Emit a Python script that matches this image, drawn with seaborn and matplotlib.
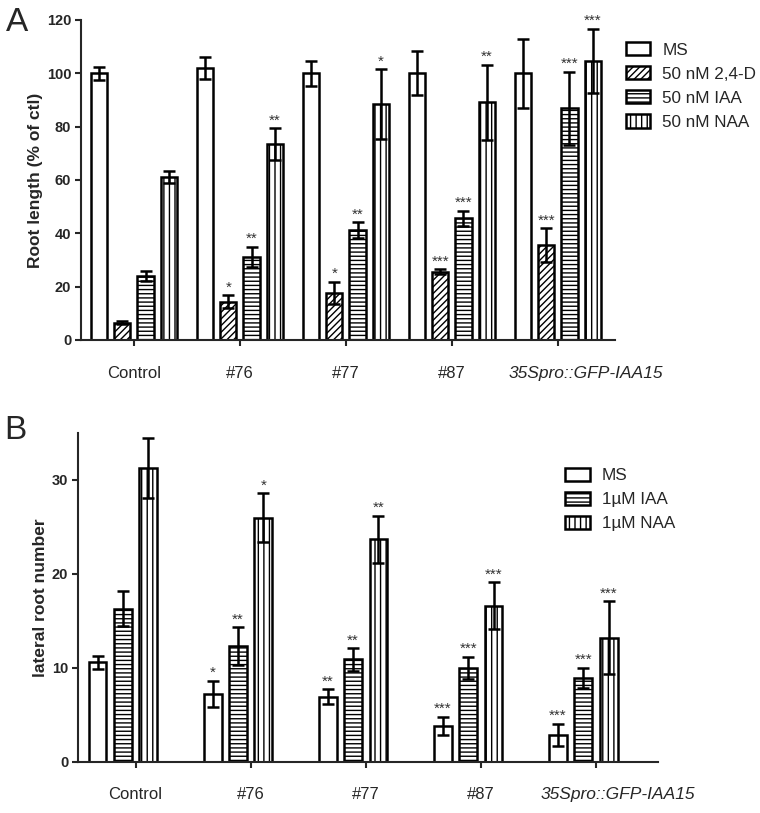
import matplotlib
matplotlib.use("Agg")
import matplotlib.pyplot as plt
import matplotlib.transforms as mtransforms
import pandas as pd
import seaborn as sns

# groups on the x axis, shared by both panels
groups = ["Control", "#76", "#77", "#87", "35Spro::GFP-IAA15"]

# Panel A: root length (% of ctl)
a_treatments = ["MS", "50 nM 2,4-D", "50 nM IAA", "50 nM NAA"]
a_ms = [100, 102, 100, 100.2, 100]
a_ms_err = [2.5, 4, 4.6, 8.3, 13]
a_24d = [6.5, 14.4, 17.7, 25.6, 35.6]
a_24d_err = [0.5, 2.3, 4.2, 1.0, 6.3]
a_iaa = [24, 31.2, 41.2, 45.6, 86.9]
a_iaa_err = [2, 3.8, 3, 2.9, 13.7]
a_naa = [61.2, 73.5, 88.5, 89.1, 104.7]
a_naa_err = [2.3, 6, 13, 14.2, 12]
a_stars_ms = ["", "", "", "", ""]
a_stars_24d = ["", "*", "*", "***", "***"]
a_stars_iaa = ["", "**", "**", "***", "***"]
a_stars_naa = ["", "**", "*", "**", "***"]

# Panel B: lateral root number
b_treatments = ["MS", "1\u00b5M IAA", "1\u00b5M NAA"]
b_ms = [10.6, 7.2, 6.9, 3.8, 2.85]
b_ms_err = [0.7, 1.4, 0.8, 1.0, 1.2]
b_iaa = [16.3, 12.3, 10.9, 10.0, 8.9]
b_iaa_err = [1.9, 2.0, 1.2, 1.2, 1.1]
b_naa = [31.3, 26.0, 23.7, 16.6, 13.2]
b_naa_err = [3.2, 2.6, 2.5, 2.5, 3.9]
b_stars_ms = ["", "*", "**", "***", "***"]
b_stars_iaa = ["", "**", "**", "***", "***"]
b_stars_naa = ["", "*", "**", "***", "***"]

sns.set_style("ticks")
plt.rcParams["font.family"] = ["Liberation Sans", "DejaVu Sans"]
plt.rcParams["hatch.linewidth"] = 1.0
plt.rcParams["hatch.color"] = "black"


def long_frame(treatments, series):
    rows = []
    for t, vals in zip(treatments, series):
        for g, v in zip(groups, vals):
            rows.append({"group": g, "treatment": t, "value": v})
    return pd.DataFrame(rows)


def draw_panel(ax, treatments, series, errs, stars, hatches, ymax, yticks, ylabel,
               legend_xy, last_shift):
    df = long_frame(treatments, series)
    # always 4 slots per group, like the original layout
    hue_order = list(treatments) + ["_empty_%d" % i for i in range(4 - len(treatments))]
    pal = {h: "white" for h in hue_order}
    sns.barplot(data=df, x="group", y="value", hue="treatment", order=groups,
                hue_order=hue_order, palette=pal, width=0.88, gap=0.3,
                edgecolor="black", linewidth=1.8, errorbar=None, legend=False, ax=ax)

    for cont, h, err, st in zip(ax.containers, hatches, errs, stars):
        for p in cont:
            p.set_hatch(h)
        xs = [p.get_x() + p.get_width() / 2 for p in cont]
        hs = [p.get_height() for p in cont]
        ax.errorbar(xs, hs, yerr=err, fmt="none", ecolor="black", elinewidth=1.8,
                    capsize=4.3, capthick=1.8, zorder=3)
        for x, v, e, s in zip(xs, hs, err, st):
            if s:
                ax.annotate(s, (x, v + e), xytext=(0, 0.5), textcoords="offset points",
                            ha="center", va="bottom", fontsize=11, color="#333333")

    ax.set_xlim(-0.5, 4.54)
    ax.set_ylim(0, ymax)
    ax.set_yticks(yticks)
    ax.set_xlabel("")
    ax.set_ylabel(ylabel, fontsize=12.5, fontweight="bold", labelpad=3)
    sns.despine(ax=ax)
    for s in ["left", "bottom"]:
        ax.spines[s].set_linewidth(1.5)
    ax.tick_params(axis="y", width=1.5, length=4, pad=3, labelsize=10.5)
    ax.tick_params(axis="x", width=1.5, length=4.5, pad=14, labelsize=12)
    for lab in ax.get_yticklabels():
        lab.set_fontweight("bold")
    last = ax.get_xticklabels()[-1]
    last.set_fontstyle("italic")
    last.set_fontsize(12.5)
    last.set_transform(last.get_transform() +
                       mtransforms.ScaledTranslation(last_shift / 100, 0, ax.figure.dpi_scale_trans))

    ax.legend(ax.containers, treatments, loc="upper left", bbox_to_anchor=legend_xy,
              frameon=False, fontsize=12.3, handlelength=1.45, handleheight=0.8,
              handletextpad=0.7, labelspacing=0.5, borderaxespad=0, borderpad=0)


fig = plt.figure(figsize=(7.6, 8.13), dpi=100)
ax_a = fig.add_axes([0.1066, 0.5818, 0.7026, 0.3936])
ax_b = fig.add_axes([0.1026, 0.0631, 0.7634, 0.4043])

draw_panel(ax_a, a_treatments, [a_ms, a_24d, a_iaa, a_naa],
           [a_ms_err, a_24d_err, a_iaa_err, a_naa_err],
           [a_stars_ms, a_stars_24d, a_stars_iaa, a_stars_naa],
           ["", "/////", "----", "|||"], 120, range(0, 121, 20),
           "Root length (% of ctl)", (1.02, 0.93), 28)

draw_panel(ax_b, b_treatments, [b_ms, b_iaa, b_naa],
           [b_ms_err, b_iaa_err, b_naa_err],
           [b_stars_ms, b_stars_iaa, b_stars_naa],
           ["", "----", "|||"], 35, range(0, 31, 10),
           "lateral root number", (0.84, 0.895), 22)

fig.text(0.008, 0.992, "A", fontsize=24, va="top", ha="left")
fig.text(0.005, 0.49, "B", fontsize=24, va="top", ha="left")

fig.savefig("out.png", dpi=100)
